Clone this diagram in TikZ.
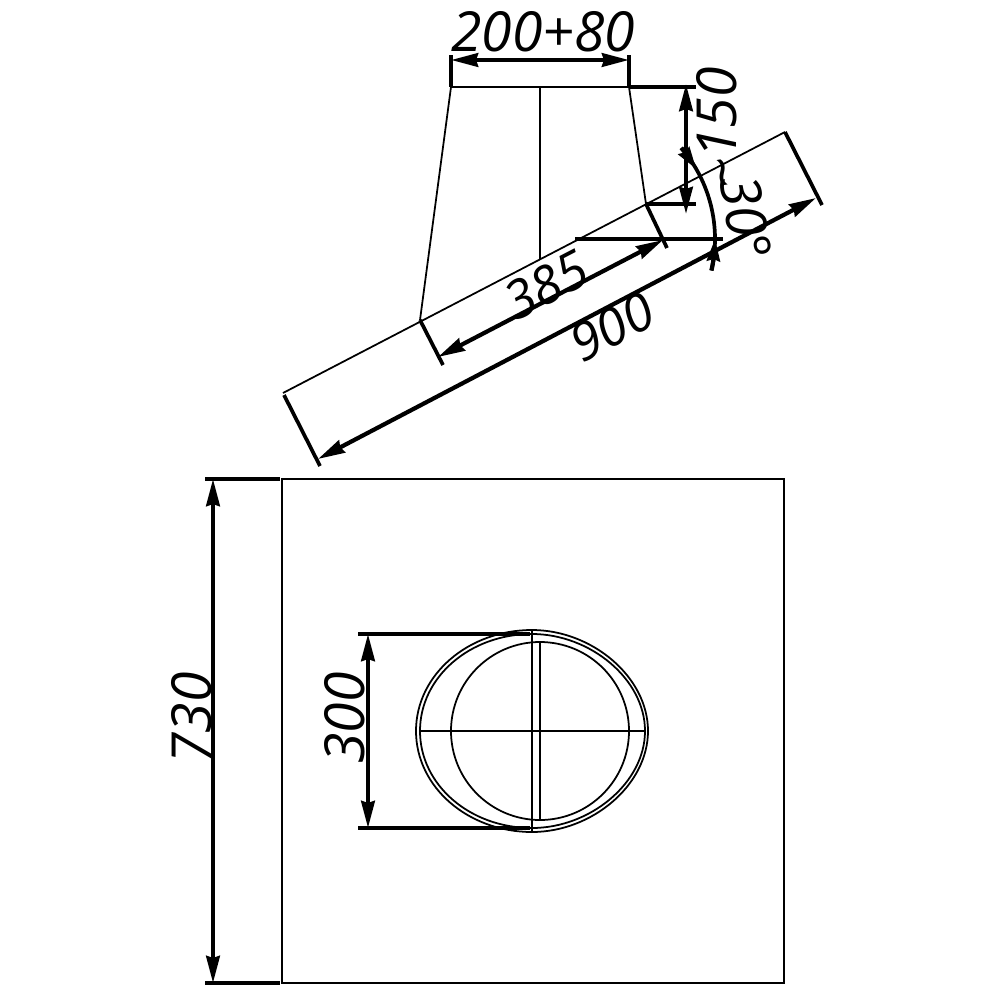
\documentclass[tikz,border=0pt]{standalone}
\usepackage{fontspec}
\setmainfont{Open Sans}
\usetikzlibrary{arrows.meta,bending}
\begin{document}
\begin{tikzpicture}[x=0.01cm,y=-0.01cm]
\tikzstyle{every node}+=[inner sep=0pt,font=\fontsize{15.7}{15.7}\selectfont\itshape]
\tikzstyle{slant}=[rotate=27.5,font=\fontsize{14.8}{14.8}\selectfont\itshape]
\tikzstyle{part}=[black,line width=0.5pt]
\tikzstyle{ext}=[black,line width=1.05pt]
\tikzstyle{dim}=[black,line width=1.2pt,{Stealth[length=2.7mm,width=1.35mm,inset=0.2mm]}-{Stealth[length=2.7mm,width=1.35mm,inset=0.2mm]}]
\tikzstyle{tip}=[black,line width=1.2pt,-{Stealth[length=2.2mm,width=1.3mm,inset=0.2mm,flex]}]
\useasboundingbox (0,0) rectangle (1000,1000);
\coordinate (roofl) at (283,393);
\coordinate (roofr) at (785,132);
\coordinate (topl) at (451,87);
\coordinate (topm) at (540,87);
\coordinate (topr) at (629,87);
\coordinate (basel) at (420,320);
\coordinate (baser) at (646,204);
\coordinate (basem) at (540,260);
\coordinate (apex) at (575,239);
\draw [part] (roofl) -- (roofr);
\draw [part] (basel) -- (topl) -- (topr) -- (baser);
\draw [part] (topm) -- (basem);
\draw [ext] (topl) -- (451,55);
\draw [ext] (topr) -- (629,55);
\draw [dim] (451,60) -- (629,60);
\node (top) at (543,32) {200+80};
\draw [ext] (topr) -- (696,87);
\draw [ext] (baser) -- (696,204);
\draw [dim] (686,84) -- (686,214);
\node [rotate=90] (rise) at (717,113) {150};
\draw [ext] (apex) -- (723,239);
\draw [ext] (apex) ++(-40.6:140) arc (-40.6:13:140);
\draw [tip] (apex) ++(-40.6:140) arc (-40.6:-30:140);
\draw [tip] (apex) ++(13:140) arc (13:0:140);
\node [rotate=-80] (angle) at (737,208) {\raisebox{-4.3pt}{\textasciitilde}\kern-2.5pt 30°};
\draw [ext] (basel) -- (443,365);
\draw [ext] (baser) -- (667,248);
\draw [dim] (438,357) -- (663,240);
\node [slant] (inner) at (546,285) {385};
\draw [ext] (284,395) -- (320,466);
\draw [ext] (roofr) -- (822,205);
\draw [dim] (318,459) -- (816,198);
\node [slant] (outer) at (612,327) {900};
\draw [part] (282,479) rectangle (784,983);
\draw [ext] (205,479) -- (280,479);
\draw [ext] (205,983) -- (280,983);
\draw [dim] (213,479) -- (213,983);
\node [rotate=90] (side) at (192,718) {730};
\draw [ext] (358,634) -- (530,634);
\draw [ext] (358,828) -- (530,828);
\draw [dim] (368,634) -- (368,828);
\node [rotate=90] (dia) at (345,718) {300};
\draw [part] (540,731) circle (89);
\draw [part] (532,630) .. controls (468,630) and (416,675) .. (416,731) .. controls (416,787) and (468,832) .. (532,832) .. controls (592,832) and (648,785) .. (648,731) .. controls (648,677) and (592,630) .. (532,630);
\draw [part] (532,634) .. controls (470,634) and (420,677) .. (420,731) .. controls (420,785) and (470,828) .. (532,828) .. controls (590,828) and (645,783) .. (645,731) .. controls (645,679) and (590,634) .. (532,634);
\draw [part] (420,731) -- (645,731);
\draw [part] (532,630) -- (532,832);
\draw [part] (540,642) -- (540,820);
\end{tikzpicture}
\end{document}
